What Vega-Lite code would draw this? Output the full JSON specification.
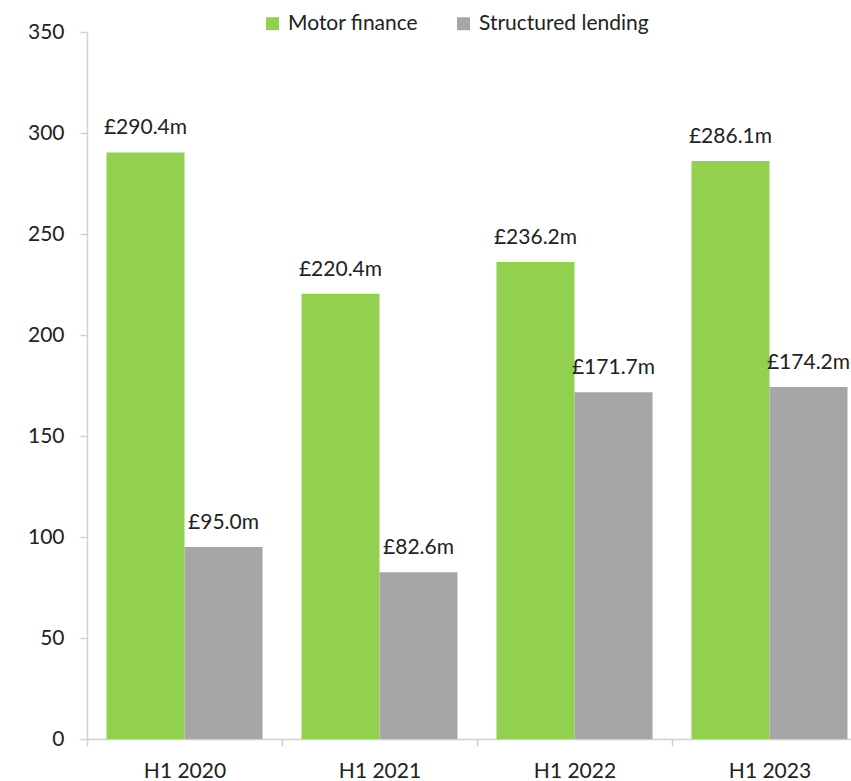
{
  "$schema": "https://vega.github.io/schema/vega-lite/v6.json",
  "autosize": "none",
  "width": 780,
  "height": 707,
  "padding": {"left": 87, "top": 32, "right": -16, "bottom": 42},
  "background": "white",
  "config": {
    "view": {"stroke": null},
    "font": "Lato",
    "axis": {"labelFont": "Lato", "labelFontSize": 21, "labelColor": "#222222", "domainColor": "#d0d0d0", "tickColor": "#d0d0d0", "grid": false, "title": null}
  },
  "data": {
    "values": [
      {"period": "H1 2020", "series": "Motor finance", "value": 290.4, "label": "£290.4m"},
      {"period": "H1 2020", "series": "Structured lending", "value": 95.0, "label": "£95.0m"},
      {"period": "H1 2021", "series": "Motor finance", "value": 220.4, "label": "£220.4m"},
      {"period": "H1 2021", "series": "Structured lending", "value": 82.6, "label": "£82.6m"},
      {"period": "H1 2022", "series": "Motor finance", "value": 236.2, "label": "£236.2m"},
      {"period": "H1 2022", "series": "Structured lending", "value": 171.7, "label": "£171.7m"},
      {"period": "H1 2023", "series": "Motor finance", "value": 286.1, "label": "£286.1m"},
      {"period": "H1 2023", "series": "Structured lending", "value": 174.2, "label": "£174.2m"}
    ]
  },
  "encoding": {
    "x": {
      "field": "period", "type": "nominal", "sort": null,
      "scale": {"paddingInner": 0, "paddingOuter": 0},
      "axis": {"labelAngle": 0, "tickBand": "extent", "tickSize": 7, "labelPadding": 14, "domainWidth": 1.5, "tickWidth": 1.5}
    },
    "xOffset": {
      "field": "series", "type": "nominal", "sort": ["Motor finance", "Structured lending"],
      "scale": {"paddingInner": 0, "paddingOuter": 0.25}
    },
    "y": {
      "field": "value", "type": "quantitative",
      "scale": {"domain": [0, 350], "nice": false},
      "axis": {"values": [0, 50, 100, 150, 200, 250, 300, 350], "tickSize": 7, "labelPadding": 16, "domainWidth": 1.5, "tickWidth": 1.5}
    }
  },
  "layer": [
    {
      "mark": {"type": "bar"},
      "encoding": {
        "color": {
          "field": "series", "type": "nominal",
          "scale": {"domain": ["Motor finance", "Structured lending"], "range": ["#92d050", "#a6a6a6"]},
          "legend": {
            "title": null, "orient": "none", "direction": "horizontal",
            "legendX": 175, "legendY": -19,
            "symbolType": "square", "symbolSize": 169, "symbolStrokeWidth": 0,
            "labelFont": "Lato", "labelFontSize": 21, "labelColor": "#222222", "labelLimit": 0,
            "labelOffset": 5, "columnPadding": 34
          }
        }
      }
    },
    {
      "mark": {"type": "text", "baseline": "alphabetic", "dy": -18, "fontSize": 21, "font": "Lato", "color": "#222222"},
      "encoding": {"text": {"field": "label"}}
    }
  ]
}
